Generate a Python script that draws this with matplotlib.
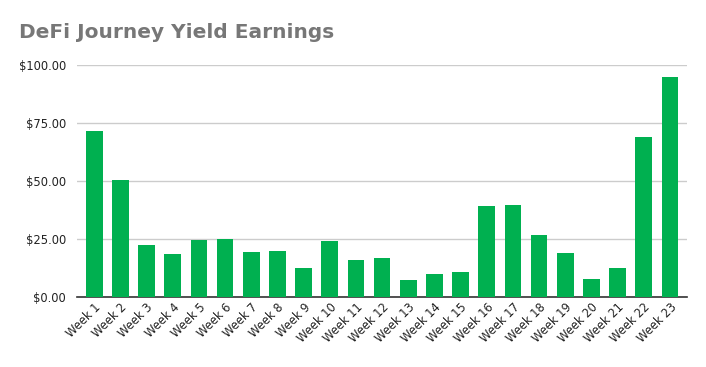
import matplotlib
matplotlib.use("Agg")
import matplotlib.pyplot as plt
from matplotlib.ticker import FuncFormatter

weeks = [f"Week {i}" for i in range(1, 24)]
earnings = [71.6, 50.4, 22.4, 18.5, 24.6, 25.0, 19.4, 19.8, 12.5, 24.1, 15.9, 16.8,
            7.3, 9.9, 10.8, 39.2, 39.7, 26.7, 19.0, 7.8, 12.5, 69.0, 94.8]
yticks = [0, 25, 50, 75, 100]

plt.rcParams['font.family'] = ['DejaVu Sans']
fig = plt.figure(figsize=(7.06, 3.67), dpi=100)
ax = fig.add_axes([0.109, 0.191, 0.864, 0.632])

x = range(len(weeks))
ax.bar(x, earnings, width=0.64, color="#00b050", zorder=3)
ax.set_xlim(-0.66, len(weeks) - 0.35)
ax.set_ylim(0, 100)
ax.set_yticks(yticks)
ax.yaxis.set_major_formatter(FuncFormatter(lambda v, p: f"${v:.2f}"))
ax.grid(axis="y", color="#cccccc", linewidth=1, zorder=0)
for s in ["top", "right", "left"]:
    ax.spines[s].set_visible(False)
ax.spines["bottom"].set_color("#333333")
ax.spines["bottom"].set_linewidth(1.2)
ax.tick_params(axis="y", length=0, pad=8, labelsize=8.3, labelcolor="#222222")
ax.tick_params(axis="x", length=0, pad=3, labelsize=8.3, labelcolor="#222222")
ax.set_xticks(list(x))
ax.set_xticklabels(weeks, rotation=45, ha="right", rotation_mode="anchor")

fig.text(19 / 706, 1 - 32 / 367, "DeFi Journey Yield Earnings", fontsize=14.5,
         fontweight="bold", color="#777777", va="center", ha="left")

fig.savefig("out.png", dpi=100)
